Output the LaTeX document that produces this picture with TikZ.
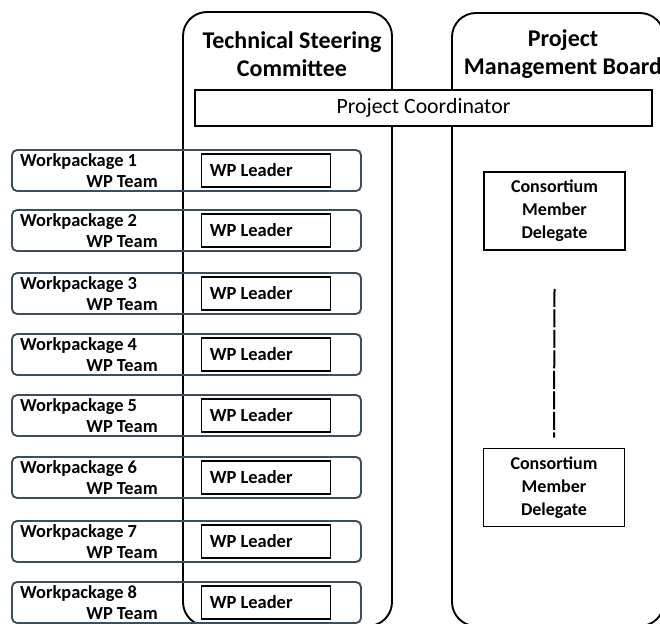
\documentclass[tikz,border=0pt]{standalone}
\usepackage{fontspec}
\setmainfont{Carlito}
\definecolor{wpc}{RGB}{62,76,94}
\begin{document}
\begin{tikzpicture}[x=1pt,y=-1pt,
  col/.style={draw=black, line width=1.9pt, rounded corners=24pt, inner sep=0pt},
  wpbox/.style={draw=wpc, line width=1.9pt, rounded corners=5pt, inner sep=0pt, minimum width=349pt, minimum height=41pt},
  whitebox/.style={draw=black, line width=1.9pt, fill=white, inner sep=0pt},
  titletext/.style={align=center, font=\bfseries\fontsize{24}{28}\selectfont, inner sep=0pt},
  wptext/.style={font=\bfseries\fontsize{18.4}{20}\selectfont, inner sep=0pt},
  leadtext/.style={font=\bfseries\fontsize{18.5}{20}\selectfont, inner sep=0pt},
  cmdbox/.style={whitebox, minimum width=141pt, minimum height=78pt, align=center, font=\bfseries\fontsize{18}{23}\selectfont},
  dashline/.style={draw=black, line width=2pt, dash pattern=on 18pt off 2.5pt}]
\useasboundingbox (0,0) rectangle (660,623);
% columns
\node[col, minimum width=209pt, minimum height=614pt] (tsc) at (287.5,319) {};
\node[col, minimum width=212pt, minimum height=613pt] (pmb) at (558,319.5) {};
\node[titletext] (tsct) at (292,54) {Technical Steering\\Committee};
\node[titletext] (pmbt) at (563,54) {Project\\Management Board};
% project coordinator
\node[whitebox, minimum width=457pt, minimum height=36pt, font=\fontsize{21.8}{24}\selectfont] (pc) at (423.5,108) {Project Coordinator};
% workpackages
\foreach \i/\t in {1/150,2/210,3/273,4/334,5/395,6/457,7/521,8/582}{
  \node[wpbox] (wp\i) at (186.5,\t+20.5) {};
  \node[wptext, anchor=base west] (wpn\i) at (20,\t+16) {Workpackage \i};
  \node[wptext, anchor=base east] (wpt\i) at (158,\t+37) {WP Team};
  \node[whitebox, minimum width=129pt, minimum height=33pt] (wpl\i) at (266,\t+20.5) {};
  \node[leadtext, anchor=west] (wplt\i) at ([xshift=9pt]wpl\i.west) {WP Leader};
}
% consortium member delegates
\node[cmdbox] (cmd1) at (554.5,211) {Consortium\\Member\\Delegate};
\node[cmdbox] (cmd2) at (554,487.5) {Consortium\\Member\\Delegate};
\draw[dashline] ([yshift=-38pt]cmd1.south) -- ([yshift=10pt]cmd2.north);
\end{tikzpicture}
\end{document}
